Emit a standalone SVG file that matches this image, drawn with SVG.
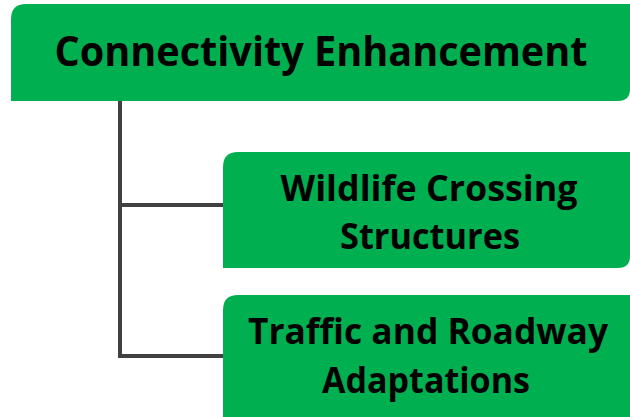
<svg xmlns="http://www.w3.org/2000/svg" width="630" height="417" viewBox="0 0 630 417">
<defs>
<style>
.box{fill:#00B050;}
.t{font-family:"Open Sans","Noto Sans",sans-serif;font-weight:bold;fill:#000;text-anchor:middle;}
.c{fill:none;stroke:#404040;stroke-width:4;}
</style>
</defs>
<g id="connectors">
<path class="c" d="M120 101 V356 H225 M120 205 H224"/>
</g>
<g id="root">
<path class="box" d="M11 19 Q11 4 26 4 H630 V89 Q630 101 618 101 H11 Z"/>
<text class="t" x="321" y="66" font-size="42" textLength="533" lengthAdjust="spacingAndGlyphs">Connectivity Enhancement</text>
</g>
<g id="wildlife">
<path class="box" d="M223 167 Q223 152 238 152 H630 V256 Q630 268 618 268 H223 Z"/>
<text class="t" x="429" y="201" font-size="35" textLength="297" lengthAdjust="spacingAndGlyphs">Wildlife Crossing</text>
<text class="t" x="430" y="249" font-size="35" textLength="180" lengthAdjust="spacingAndGlyphs">Structures</text>
</g>
<g id="traffic">
<path class="box" d="M223 310 Q223 295 238 295 H630 V417 H223 Z"/>
<text class="t" x="428" y="344" font-size="35" textLength="360" lengthAdjust="spacingAndGlyphs">Traffic and Roadway</text>
<text class="t" x="426" y="393" font-size="35" textLength="208" lengthAdjust="spacingAndGlyphs">Adaptations</text>
</g>
</svg>
